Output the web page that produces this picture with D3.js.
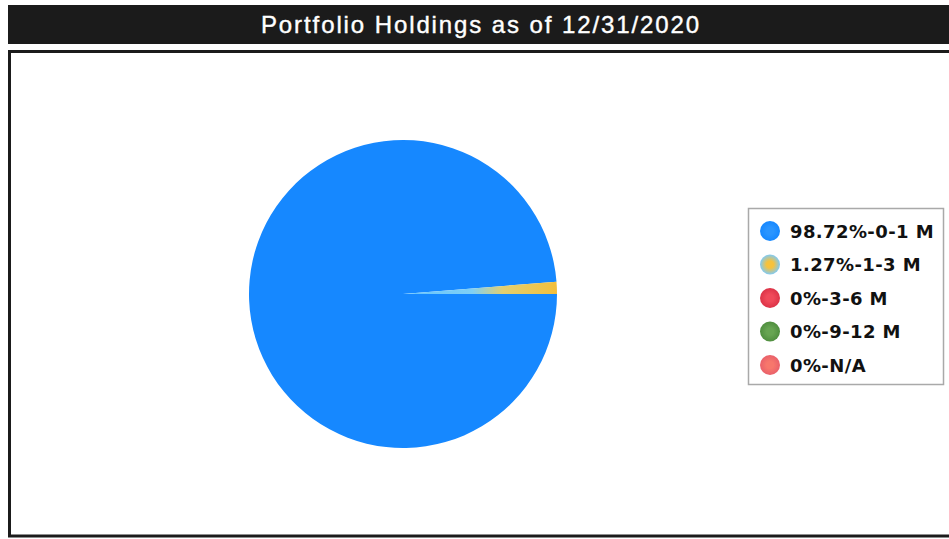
<!DOCTYPE html>
<html>
<head>
<meta charset="utf-8">
<script src="https://cdn.jsdelivr.net/npm/d3@7"></script>
<style>
  html, body { margin: 0; padding: 0; background: #ffffff; }
  svg { display: block; }
</style>
</head>
<body>
<svg id="chart" width="949" height="539"></svg>
<script>
// Maturity buckets and their share of the portfolio (%)
const categories = ["0-1 M", "1-3 M", "3-6 M", "9-12 M", "N/A"];
const shares = [98.72, 1.27, 0, 0, 0];
const titleText = "Portfolio Holdings as of 12/31/2020";

const svg = d3.select("#chart");
const W = 949, H = 539;

const defs = svg.append("defs");
// Radial fills for slices and legend swatches: [inner, outer]
const fills = [
  ["#2a95ff", "#1688ff"],
  ["#f7c23c", "#7fcaf5"],
  ["#f04a5a", "#dc3347"],
  ["#67a552", "#4f8e3f"],
  ["#f7776c", "#e9606a"]
];
fills.forEach((f, i) => {
  const g = defs.append("radialGradient").attr("id", "lg" + i)
    .attr("cx", "50%").attr("cy", "50%").attr("r", "50%");
  g.append("stop").attr("offset", "35%").attr("stop-color", f[0]);
  g.append("stop").attr("offset", "100%").attr("stop-color", f[1]);
});
// The thin 1-3 M wedge fades from light blue at the centre to gold at the rim
const wedge = defs.append("radialGradient").attr("id", "wedge1")
  .attr("gradientUnits", "userSpaceOnUse").attr("cx", 0).attr("cy", 0).attr("r", 154);
wedge.append("stop").attr("offset", "0%").attr("stop-color", "#62c2ff");
wedge.append("stop").attr("offset", "45%").attr("stop-color", "#7fd0f5");
wedge.append("stop").attr("offset", "65%").attr("stop-color", "#e3cf70");
wedge.append("stop").attr("offset", "100%").attr("stop-color", "#f3bf3c");

// Title bar
svg.append("rect").attr("x", 8).attr("y", 5).attr("width", W - 8).attr("height", 39)
  .attr("fill", "#1b1b1b");
svg.append("text").attr("x", 481).attr("y", 33)
  .attr("text-anchor", "middle")
  .attr("font-family", "Liberation Sans, Arial, sans-serif")
  .attr("font-size", 24).attr("letter-spacing", 1.9)
  .attr("fill", "#ffffff").attr("stroke", "#ffffff").attr("stroke-width", 0.4)
  .text(titleText);

// Chart frame
svg.append("rect").attr("x", 9.5).attr("y", 51.5).attr("width", W + 10).attr("height", 484.5)
  .attr("fill", "#ffffff").attr("stroke", "#1b1b1b").attr("stroke-width", 3);

// Pie
const cx = 403, cy = 294, R = 154;
const pie = d3.pie().sort(null).value(d => d)
  .startAngle(Math.PI / 2).endAngle(Math.PI / 2 + 2 * Math.PI);
const arc = d3.arc().innerRadius(0).outerRadius(R);
const gPie = svg.append("g").attr("transform", `translate(${cx},${cy})`);
gPie.selectAll("path").data(pie(shares)).join("path")
  .attr("d", arc)
  .attr("fill", (d, i) => i === 1 ? "url(#wedge1)" : fills[i][1]);

// Legend
const lg = svg.append("g");
lg.append("rect").attr("x", 748.5).attr("y", 208.5).attr("width", 195).attr("height", 176)
  .attr("fill", "#ffffff").attr("stroke", "#a9a9a9").attr("stroke-width", 1.5);
const yRow = d3.scalePoint().domain(d3.range(categories.length)).range([231, 365]);
const items = lg.selectAll("g.item").data(categories).join("g")
  .attr("class", "item")
  .attr("transform", (d, i) => `translate(770,${yRow(i)})`);
items.append("circle").attr("r", 10).attr("fill", (d, i) => `url(#lg${i})`);
items.append("text").attr("x", 20).attr("y", 6.5)
  .attr("font-family", "DejaVu Sans, Verdana, sans-serif")
  .attr("font-size", 18).attr("font-weight", "bold").attr("letter-spacing", 0.4)
  .attr("fill", "#111")
  .text((d, i) => `${shares[i]}%-${d}`);
</script>
</body>
</html>
